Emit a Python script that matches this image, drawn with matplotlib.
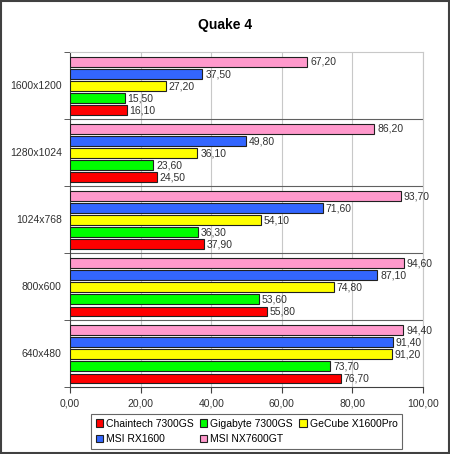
import matplotlib.pyplot as plt
import numpy as np
from matplotlib.patches import Rectangle

plt.rcParams['font.family'] = ['Liberation Sans', 'DejaVu Sans']

# data (bottom group first so 640x480 ends at the bottom)
resolutions = ['640x480', '800x600', '1024x768', '1280x1024', '1600x1200']
series = ['Chaintech 7300GS', 'Gigabyte 7300GS', 'GeCube X1600Pro', 'MSI RX1600', 'MSI NX7600GT']
chaintech = [76.7, 55.8, 37.9, 24.5, 16.1]
gigabyte = [73.7, 53.6, 36.3, 23.6, 15.5]
gecube = [91.2, 74.8, 54.1, 36.1, 27.2]
msi_rx = [91.4, 87.1, 71.6, 49.8, 37.5]
msi_nx = [94.4, 94.6, 93.7, 86.2, 67.2]
colors = ['#ff0000', '#00ff00', '#ffff00', '#3366ff', '#ff99cc']
xticks = [0, 20, 40, 60, 80, 100]

values = [chaintech, gigabyte, gecube, msi_rx, msi_nx]

fig = plt.figure(figsize=(4.5, 4.54), dpi=100)
ax = fig.add_axes([0.1556, 0.1476, 0.7844, 0.738])

pitch = 0.18
height = 0.142
y = np.arange(len(resolutions))
handles = []
for i, (vals, col, name) in enumerate(zip(values, colors, series)):
    pos = y + (i - 2) * pitch - 0.01
    b = ax.barh(pos, vals, height=height, color=col, edgecolor='#202020',
                linewidth=0.8, label=name, zorder=3)
    handles.append(b)
    for p, v in zip(pos, vals):
        ax.text(v + 0.8, p, f'{v:.2f}'.replace('.', ','), va='center', ha='left',
                fontsize=7.5, color='#303030', zorder=4)

ax.set_xlim(0, 100)
ax.set_ylim(-0.5, len(resolutions) - 0.5)
ax.set_xticks(xticks)
ax.set_xticklabels([f'{t:.2f}'.replace('.', ',') for t in xticks], fontsize=7.5, color='#303030')
ax.set_yticks(y)
ax.set_yticklabels(resolutions, fontsize=7.5, color='#303030')
ax.tick_params(axis='y', length=0, pad=6)
ax.set_yticks(np.arange(-0.5, len(resolutions)), minor=True)
ax.tick_params(axis='y', which='minor', length=4, color='#404040')
ax.tick_params(axis='x', length=4, color='#404040', pad=4)

for t in xticks[1:]:
    ax.axvline(t, color='#c8c8c8', linewidth=0.8, zorder=1)
for b in np.arange(0.5, len(resolutions) - 1):
    ax.axhline(b, color='#606060', linewidth=0.8, zorder=2)

ax.spines['top'].set_color('#c8c8c8')
ax.spines['right'].set_color('#c8c8c8')
ax.spines['left'].set_color('#404040')
ax.spines['bottom'].set_color('#404040')

fig.text(0.5, 0.945, 'Quake 4', ha='center', va='center', fontsize=10, fontweight='bold')

order = [0, 3, 1, 4, 2]
leg = fig.legend([handles[k] for k in order], [series[k] for k in order], ncol=3,
                 loc='center', bbox_to_anchor=(0.548, 0.05), fontsize=7.5,
                 frameon=True, fancybox=False, edgecolor='#404040',
                 handlelength=0.7, handleheight=0.7, handletextpad=0.3,
                 columnspacing=0.6, labelspacing=0.5, borderpad=0.45)
leg.get_frame().set_linewidth(0.8)

fig.patches.append(Rectangle((0.002, 0.002), 0.996, 0.996, transform=fig.transFigure,
                             fill=False, edgecolor='#404040', linewidth=1.5))

fig.savefig('out.png', dpi=100)
